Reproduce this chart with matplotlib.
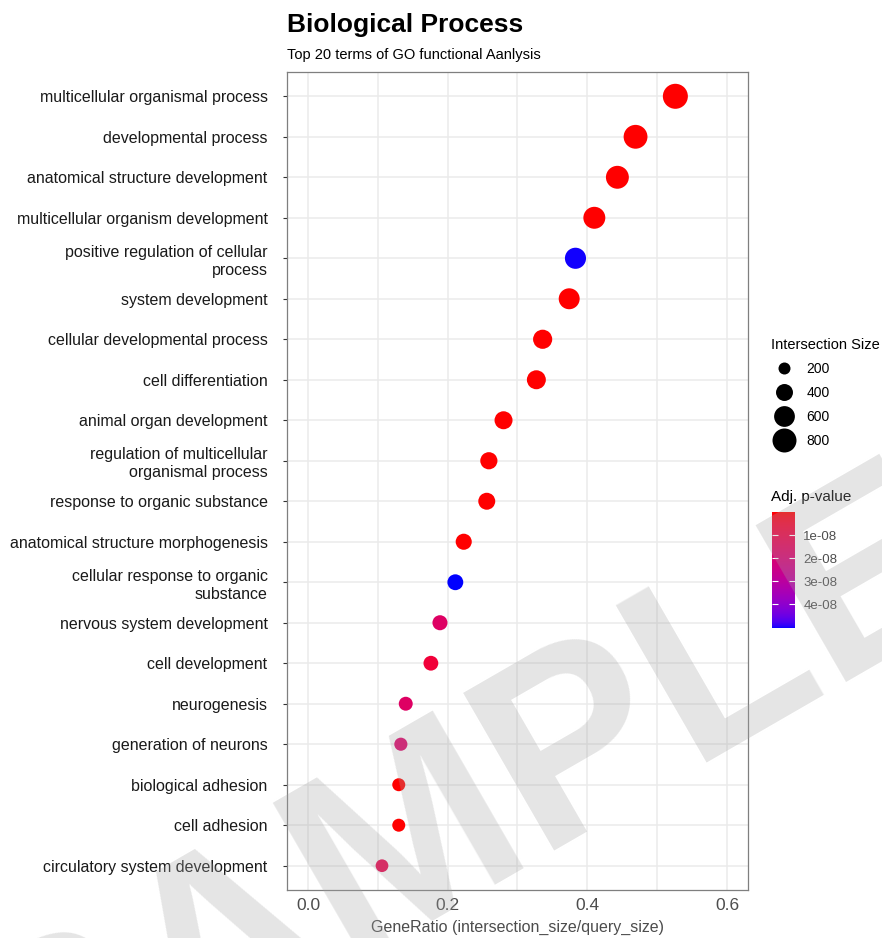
import numpy as np
import matplotlib
matplotlib.use("Agg")
import matplotlib.pyplot as plt
from matplotlib.colors import ListedColormap, Normalize
from matplotlib.lines import Line2D

plt.rcParams['font.family'] = ['Liberation Sans', 'DejaVu Sans']

terms = [
    "multicellular organismal process",
    "developmental process",
    "anatomical structure development",
    "multicellular organism development",
    "positive regulation of cellular\nprocess",
    "system development",
    "cellular developmental process",
    "cell differentiation",
    "animal organ development",
    "regulation of multicellular\norganismal process",
    "response to organic substance",
    "anatomical structure morphogenesis",
    "cellular response to organic\nsubstance",
    "nervous system development",
    "cell development",
    "neurogenesis",
    "generation of neurons",
    "biological adhesion",
    "cell adhesion",
    "circulatory system development",
]
gene_ratio = [0.526, 0.469, 0.443, 0.410, 0.383, 0.374, 0.336, 0.327, 0.280, 0.259,
              0.256, 0.223, 0.211, 0.189, 0.176, 0.140, 0.133, 0.130, 0.130, 0.106]
intersection_size = [870, 790, 730, 670, 620, 610, 510, 500, 450, 410,
                     400, 360, 350, 315, 305, 270, 240, 235, 235, 225]
adj_pvalue = [1e-40, 1e-35, 1e-33, 1e-30, 5.02e-08, 1e-28, 1e-25, 1e-24, 1e-20, 1e-18,
              1e-17, 1e-14, 5.04e-08, 1.7e-08, 0.8e-08, 1.7e-08, 1.8e-08, 1e-12, 1e-12, 1.2e-08]
size_breaks = [200, 400, 600, 800]
cbar_ticks = [1e-08, 2e-08, 3e-08, 4e-08]
cbar_labels = ["1e-08", "2e-08", "3e-08", "4e-08"]


# Lab interpolation between red and blue (ggplot-like gradient)
def srgb_to_lab(rgb):
    rgb = np.asarray(rgb, float)
    lin = np.where(rgb <= 0.04045, rgb / 12.92, ((rgb + 0.055) / 1.055) ** 2.4)
    M = np.array([[0.4124, 0.3576, 0.1805], [0.2126, 0.7152, 0.0722], [0.0193, 0.1192, 0.9505]])
    xyz = M @ lin / np.array([0.95047, 1.0, 1.08883])
    f = np.where(xyz > 0.008856, np.cbrt(xyz), 7.787 * xyz + 16 / 116)
    return np.array([116 * f[1] - 16, 500 * (f[0] - f[1]), 200 * (f[1] - f[2])])


def lab_to_srgb(lab):
    L, a, b = lab
    fy = (L + 16) / 116
    fx = fy + a / 500
    fz = fy - b / 200
    f = np.array([fx, fy, fz])
    xyz = np.where(f ** 3 > 0.008856, f ** 3, (f - 16 / 116) / 7.787) * np.array([0.95047, 1.0, 1.08883])
    Minv = np.array([[3.2406, -1.5372, -0.4986], [-0.9689, 1.8758, 0.0415], [0.0557, -0.2040, 1.0570]])
    lin = np.clip(Minv @ xyz, 0, 1)
    return np.clip(np.where(lin <= 0.0031308, 12.92 * lin, 1.055 * lin ** (1 / 2.4) - 0.055), 0, 1)


lab_lo = srgb_to_lab([1, 0, 0])
lab_hi = srgb_to_lab([0, 0, 1])
cols = [lab_to_srgb(lab_lo + t * (lab_hi - lab_lo)) for t in np.linspace(0, 1, 256)]
cmap = ListedColormap(cols)

vmin, vmax = 0.0, max(adj_pvalue)
norm = Normalize(vmin=vmin, vmax=vmax)

fig = plt.figure(figsize=(8.82, 9.38), dpi=100)
fig.patch.set_facecolor('white')
ax = fig.add_axes([287 / 882, 1 - 890 / 938, (748 - 287) / 882, (890 - 72) / 938])
ax.set_facecolor('white')

ypos = np.arange(len(terms))[::-1] + 1
sizes = [0.373 * v for v in intersection_size]
ax.scatter(gene_ratio, ypos, s=sizes, c=adj_pvalue, cmap=cmap, norm=norm,
           edgecolors='none', zorder=3)

ax.set_xlim(-0.03, 0.63)
ax.set_ylim(0.4, len(terms) + 0.6)
ax.set_xticks([0.0, 0.2, 0.4, 0.6])
ax.set_xticklabels(["0.0", "0.2", "0.4", "0.6"])
ax.set_xticks([0.1, 0.3, 0.5], minor=True)
ax.set_yticks(ypos)
ax.set_yticklabels(terms, fontsize=11.5, color='#1a1a1a', linespacing=1.25)
ax.tick_params(axis='y', length=3, width=0.8, color='#333333', pad=11)
ax.tick_params(axis='x', which='major', length=0, labelsize=12.5, labelcolor='#4d4d4d', pad=6)
ax.tick_params(axis='x', which='minor', length=0)
ax.grid(True, which='major', color='#ebebeb', linewidth=1.1, zorder=0)
ax.grid(True, which='minor', axis='x', color='#ebebeb', linewidth=1.1, zorder=0)
ax.set_axisbelow(True)
for sp in ax.spines.values():
    sp.set_color('#7f7f7f')
    sp.set_linewidth(0.9)
ax.set_xlabel("GeneRatio (intersection_size/query_size)", fontsize=11.5, color='#4d4d4d', labelpad=5)

fig.text(287 / 882, 1 - 25 / 938, "Biological Process", fontsize=19, fontweight='bold',
         ha='left', va='center', color='black')
fig.text(287 / 882, 1 - 55 / 938, "Top 20 terms of GO functional Aanlysis", fontsize=10.5,
         ha='left', va='center', color='black')

# size legend
handles = [Line2D([], [], marker='o', ls='', color='black', markeredgewidth=0,
                  markersize=np.sqrt(0.373 * v)) for v in size_breaks]
leg = fig.legend(handles, [str(v) for v in size_breaks], title="Intersection Size",
                 loc='upper left', bbox_to_anchor=(765 / 882, 1 - 332 / 938),
                 frameon=False, fontsize=10, title_fontsize=10.5, labelspacing=0.72,
                 handletextpad=0.6, borderaxespad=0, alignment='left')

# colorbar
cax = fig.add_axes([772 / 882, 1 - 628 / 938, 23 / 882, 116 / 938])
sm = plt.cm.ScalarMappable(cmap=cmap, norm=norm)
cb = fig.colorbar(sm, cax=cax)
cb.outline.set_visible(False)
cax.invert_yaxis()
cb.set_ticks(cbar_ticks)
cb.set_ticklabels(cbar_labels)
cax.tick_params(axis='y', length=4, width=0.8, color='white', direction='in', left=True, right=True,
                labelsize=9.5, labelcolor='#4d4d4d', pad=6)
fig.text(771 / 882, 1 - 497 / 938, "Adj. p-value", fontsize=11, ha='left', va='center')

# watermark
fig.text(507 / 882, 1 - 874 / 938, "SAMPLE", fontsize=190, fontweight='bold', rotation=30,
         color=(0.647, 0.647, 0.647), alpha=0.29, ha='center', va='baseline', zorder=10,
         rotation_mode='anchor', family='Liberation Sans')

fig.savefig("out.png", dpi=100)
